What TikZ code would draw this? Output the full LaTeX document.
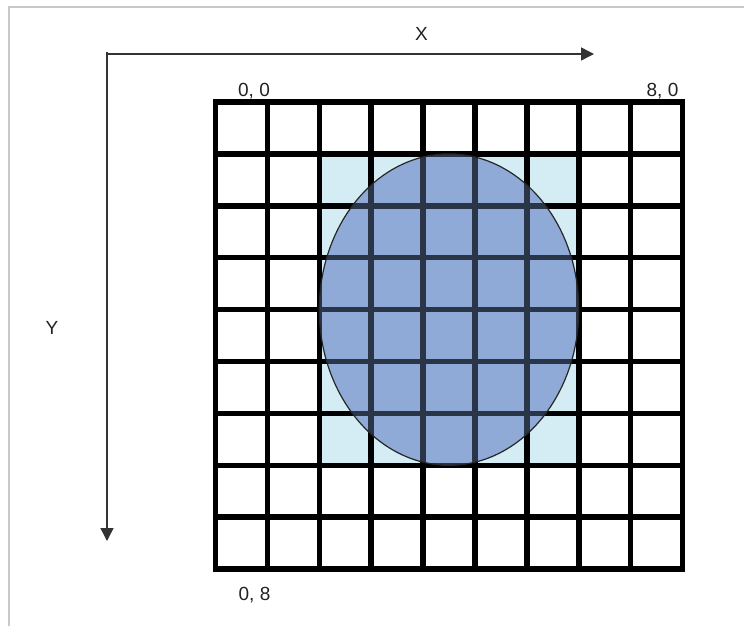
\documentclass[tikz,border=0pt]{standalone}
\usepackage{fontspec}
\setmainfont{Liberation Sans}
\usetikzlibrary{arrows.meta}
\definecolor{cellblue}{HTML}{D4ECF3}
\definecolor{ellblue}{HTML}{90AAD8}
\definecolor{gridnavy}{HTML}{2A3548}
\definecolor{framegray}{HTML}{C8C8C8}
\definecolor{axisgray}{HTML}{333333}
\definecolor{textgray}{HTML}{222222}
\tikzset{
  lbl/.style={anchor=base, text=textgray, inner sep=0pt, font=\fontsize{19}{22}\selectfont},
  axisline/.style={draw=axisgray, line width=1.5pt, -{Triangle[length=13pt,width=13pt]}},
  gridline/.style={line width=5.5pt},
}
\begin{document}
\begin{tikzpicture}[x=1pt,y=-1pt]
\useasboundingbox (0,0) rectangle (744,626);
% frame (top and left)
\draw[framegray, line width=2pt] (9,626) -- (9,7) -- (744,7);
% light blue cells
\def\gx{215.5}\def\gy{102}\def\cs{51.9}
\fill[cellblue] ({\gx+2*\cs},{\gy+\cs}) rectangle ({\gx+7*\cs},{\gy+7*\cs});
% ellipse fill
\fill[ellblue] ({\gx+4.5*\cs},{\gy+4*\cs}) ellipse [x radius={2.5*\cs}, y radius={3*\cs}];
% grid
\foreach \i in {1,...,8}{
  \draw[gridline] ({\gx+\i*\cs},\gy) -- ({\gx+\i*\cs},{\gy+9*\cs});
  \draw[gridline] (\gx,{\gy+\i*\cs}) -- ({\gx+9*\cs},{\gy+\i*\cs});
}
\draw[gridline] (\gx,\gy) rectangle ({\gx+9*\cs},{\gy+9*\cs});
% grid lines under the ellipse
\begin{scope}
\clip ({\gx+4.5*\cs},{\gy+4*\cs}) ellipse [x radius={2.5*\cs}, y radius={3*\cs}];
\foreach \i in {1,...,8}{
  \draw[gridline, gridnavy] ({\gx+\i*\cs},\gy) -- ({\gx+\i*\cs},{\gy+9*\cs});
  \draw[gridline, gridnavy] (\gx,{\gy+\i*\cs}) -- ({\gx+9*\cs},{\gy+\i*\cs});
}
\end{scope}
\draw[black!85, line width=1.2pt] ({\gx+4.5*\cs},{\gy+4*\cs}) ellipse [x radius={2.5*\cs}, y radius={3*\cs}];
% axes
\coordinate (origin) at (107,54);
\coordinate (xend) at (594,54);
\coordinate (yend) at (107,541);
\draw[axisline] (origin) -- (xend);
\draw[axisline] (origin) -- (yend);
\draw[axisgray, line width=1.5pt] (107,55) -- (107,53.25) -- (108,53.25);
% labels
\node[lbl] (xlabel) at (421.5,41) {X};
\node[lbl] (ylabel) at (52,334) {Y};
\node[lbl] (tl) at (254,96.5) {0, 0};
\node[lbl] (tr) at (662.5,96.5) {8, 0};
\node[lbl] (bl) at (254.5,600.5) {0, 8};
\end{tikzpicture}
\end{document}
